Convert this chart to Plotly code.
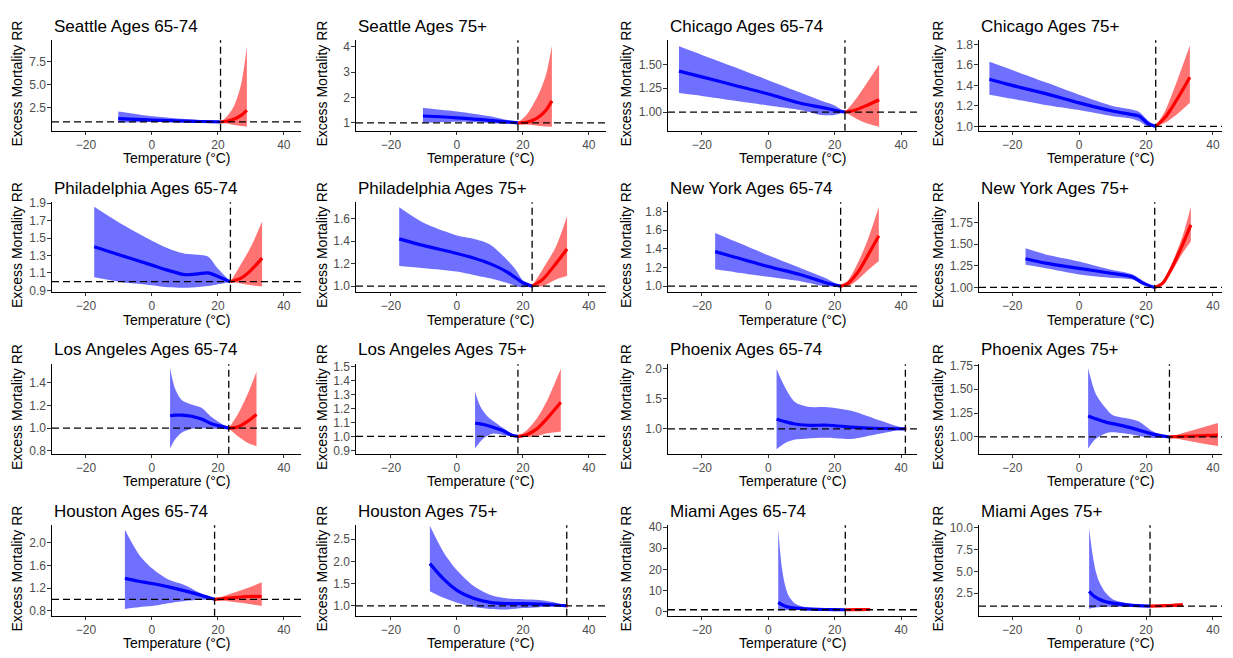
import plotly.graph_objects as go

W, H = 1233, 658

TITLES = ["Seattle Ages 65-74", "Seattle Ages 75+", "Chicago Ages 65-74", "Chicago Ages 75+",
          "Philadelphia Ages 65-74", "Philadelphia Ages 75+", "New York Ages 65-74", "New York Ages 75+",
          "Los Angeles Ages 65-74", "Los Angeles Ages 75+", "Phoenix Ages 65-74", "Phoenix Ages 75+",
          "Houston Ages 65-74", "Houston Ages 75+", "Miami Ages 65-74", "Miami Ages 75+"]
MMT = [20.8, 18.5, 23.1, 22.9, 23.8, 22.8, 21.8, 22.6, 23.3, 18.5, 41.3, 27.0, 19.0, 33.3, 23.2, 21.2]
X_TICKS = [-20, 0, 20, 40]
Y_TICKS = [[2.5, 5.0, 7.5], [1, 2, 3, 4], [1.00, 1.25, 1.50], [1.0, 1.2, 1.4, 1.6, 1.8],
           [0.9, 1.1, 1.3, 1.5, 1.7, 1.9], [1.0, 1.2, 1.4, 1.6], [1.0, 1.2, 1.4, 1.6, 1.8], [1.00, 1.25, 1.50, 1.75],
           [0.8, 1.0, 1.2, 1.4], [0.9, 1.0, 1.1, 1.2, 1.3, 1.4, 1.5], [1.0, 1.5, 2.0], [1.00, 1.25, 1.50, 1.75],
           [0.8, 1.2, 1.6, 2.0], [1.0, 1.5, 2.0, 2.5], [0, 10, 20, 30, 40], [2.5, 5.0, 7.5, 10.0]]
Y_LABELS = [["2.5", "5.0", "7.5"], ["1", "2", "3", "4"], ["1.00", "1.25", "1.50"], ["1.0", "1.2", "1.4", "1.6", "1.8"],
            ["0.9", "1.1", "1.3", "1.5", "1.7", "1.9"], ["1.0", "1.2", "1.4", "1.6"], ["1.0", "1.2", "1.4", "1.6", "1.8"],
            ["1.00", "1.25", "1.50", "1.75"], ["0.8", "1.0", "1.2", "1.4"],
            ["0.9", "1.0", "1.1", "1.2", "1.3", "1.4", "1.5"], ["1.0", "1.5", "2.0"], ["1.00", "1.25", "1.50", "1.75"],
            ["0.8", "1.2", "1.6", "2.0"], ["1.0", "1.5", "2.0", "2.5"], ["0", "10", "20", "30", "40"],
            ["2.5", "5.0", "7.5", "10.0"]]

# ---- Seattle 65-74
sea65_ct = [-10.2, -5, 0, 5, 10, 15, 20.8]
sea65_crr = [1.35, 1.27, 1.2, 1.14, 1.08, 1.04, 1.0]
sea65_clo = [0.93, 0.97, 1.0, 1.0, 0.98, 0.96, 1.0]
sea65_chi = [2.12, 1.85, 1.6, 1.45, 1.3, 1.17, 1.0]
sea65_ht = [20.8, 23, 25, 27, 28.8]
sea65_hrr = [1.0, 1.1, 1.3, 1.7, 2.25]
sea65_hlo = [1.0, 0.8, 0.65, 0.55, 0.5]
sea65_hhi = [1.0, 1.7, 2.8, 5.0, 9.1]
# ---- Seattle 75+
sea75_ct = [-10.3, -5, 0, 5, 10, 15, 18.5]
sea75_crr = [1.27, 1.24, 1.2, 1.15, 1.1, 1.04, 1.0]
sea75_clo = [1.0, 1.02, 1.04, 1.02, 0.99, 0.96, 1.0]
sea75_chi = [1.6, 1.52, 1.45, 1.36, 1.26, 1.12, 1.0]
sea75_ht = [18.5, 21, 23, 25, 27, 28.8]
sea75_hrr = [1.0, 1.02, 1.1, 1.25, 1.5, 1.87]
sea75_hlo = [1.0, 0.93, 0.9, 0.88, 0.86, 0.85]
sea75_hhi = [1.0, 1.3, 1.7, 2.2, 2.9, 4.05]
# ---- Chicago 65-74
chi65_ct = [-26.9, -20, -10, 0, 10, 16, 20, 23.1]
chi65_crr = [1.43, 1.37, 1.28, 1.19, 1.09, 1.05, 1.02, 1.0]
chi65_clo = [1.2, 1.17, 1.12, 1.07, 1.02, 0.97, 0.97, 1.0]
chi65_chi = [1.69, 1.6, 1.47, 1.335, 1.2, 1.12, 1.07, 1.0]
chi65_ht = [23.1, 26, 29, 33.4]
chi65_hrr = [1.0, 1.02, 1.06, 1.13]
chi65_hlo = [1.0, 0.94, 0.89, 0.845]
chi65_hhi = [1.0, 1.12, 1.27, 1.5]
# ---- Chicago 75+
chi75_ct = [-26.8, -20, -10, 0, 10, 15, 18, 20.5, 22.9]
chi75_crr = [1.46, 1.40, 1.32, 1.23, 1.15, 1.12, 1.1, 1.03, 1.0]
chi75_clo = [1.31, 1.27, 1.21, 1.16, 1.1, 1.08, 1.05, 1.0, 1.0]
chi75_chi = [1.63, 1.55, 1.43, 1.31, 1.2, 1.17, 1.14, 1.06, 1.0]
chi75_ht = [22.9, 26, 29, 33.1]
chi75_hrr = [1.0, 1.1, 1.25, 1.48]
chi75_hlo = [1.0, 1.04, 1.11, 1.23]
chi75_hhi = [1.0, 1.17, 1.42, 1.79]
# ---- Philadelphia 65-74
phl65_ct = [-17.5, -10, 0, 5, 10, 14, 17, 20, 23.8]
phl65_crr = [1.40, 1.31, 1.19, 1.13, 1.08, 1.09, 1.10, 1.06, 1.0]
phl65_clo = [1.05, 1.0, 0.96, 0.935, 0.93, 0.94, 0.95, 0.97, 1.0]
phl65_chi = [1.86, 1.68, 1.47, 1.38, 1.32, 1.31, 1.29, 1.15, 1.0]
phl65_ht = [23.8, 27, 30, 33.4]
phl65_hrr = [1.0, 1.04, 1.13, 1.27]
phl65_hlo = [1.0, 0.98, 0.96, 0.945]
phl65_hhi = [1.0, 1.2, 1.4, 1.69]
# ---- Philadelphia 75+
phl75_ct = [-17.5, -10, 0, 5, 10, 15, 18, 20, 22.8]
phl75_crr = [1.42, 1.36, 1.29, 1.25, 1.2, 1.13, 1.07, 1.03, 1.0]
phl75_clo = [1.18, 1.16, 1.13, 1.1, 1.07, 1.03, 1.0, 0.99, 1.0]
phl75_chi = [1.70, 1.56, 1.45, 1.42, 1.37, 1.24, 1.14, 1.05, 1.0]
phl75_ht = [22.8, 26, 30, 33.4]
phl75_hrr = [1.0, 1.06, 1.2, 1.33]
phl75_hlo = [1.0, 1.0, 1.06, 1.09]
phl75_hhi = [1.0, 1.15, 1.35, 1.62]
# ---- New York 65-74
nyc65_ct = [-16, -10, 0, 10, 17, 21.8]
nyc65_crr = [1.37, 1.31, 1.21, 1.12, 1.04, 1.0]
nyc65_clo = [1.18, 1.15, 1.10, 1.05, 1.0, 1.0]
nyc65_chi = [1.57, 1.48, 1.33, 1.19, 1.09, 1.0]
nyc65_ht = [21.8, 24, 27, 30, 33.3]
nyc65_hrr = [1.0, 1.03, 1.15, 1.33, 1.54]
nyc65_hlo = [1.0, 1.0, 1.07, 1.17, 1.27]
nyc65_hhi = [1.0, 1.06, 1.25, 1.5, 1.85]
# ---- New York 75+
nyc75_ct = [-16, -10, 0, 10, 16, 19, 22.6]
nyc75_crr = [1.33, 1.28, 1.22, 1.16, 1.12, 1.05, 1.0]
nyc75_clo = [1.26, 1.22, 1.15, 1.11, 1.09, 1.03, 1.0]
nyc75_chi = [1.45, 1.38, 1.30, 1.20, 1.15, 1.08, 1.0]
nyc75_ht = [22.6, 25, 28, 31, 33.4]
nyc75_hrr = [1.0, 1.05, 1.25, 1.5, 1.72]
nyc75_hlo = [1.0, 1.04, 1.2, 1.4, 1.53]
nyc75_hhi = [1.0, 1.07, 1.3, 1.6, 1.93]
# ---- Los Angeles 65-74
la65_ct = [5.5, 7, 9, 12, 15, 18, 20.5, 23.3]
la65_crr = [1.11, 1.115, 1.115, 1.105, 1.08, 1.04, 1.02, 1.0]
la65_clo = [0.82, 0.9, 0.96, 0.995, 1.0, 0.995, 0.995, 1.0]
la65_chi = [1.53, 1.35, 1.25, 1.21, 1.18, 1.1, 1.05, 1.0]
la65_ht = [23.3, 26, 29, 31.7]
la65_hrr = [1.0, 1.01, 1.06, 1.12]
la65_hlo = [1.0, 0.93, 0.87, 0.84]
la65_hhi = [1.0, 1.12, 1.3, 1.5]
# ---- Los Angeles 75+
la75_ct = [5.5, 7, 9, 11, 14, 16.5, 18.5]
la75_crr = [1.094, 1.09, 1.08, 1.065, 1.04, 1.01, 1.0]
la75_clo = [0.913, 0.96, 1.0, 1.02, 1.01, 1.0, 1.0]
la75_chi = [1.32, 1.22, 1.15, 1.11, 1.06, 1.02, 1.0]
la75_ht = [18.5, 21, 24, 27, 31.5]
la75_hrr = [1.0, 1.01, 1.05, 1.12, 1.245]
la75_hlo = [1.0, 0.995, 1.0, 1.02, 1.035]
la75_hhi = [1.0, 1.04, 1.12, 1.24, 1.485]
# ---- Phoenix 65-74
phx65_ct = [2.5, 5, 8, 12, 18, 25, 32, 41.3]
phx65_crr = [1.16, 1.12, 1.08, 1.06, 1.06, 1.03, 1.01, 1.0]
phx65_clo = [0.66, 0.76, 0.82, 0.84, 0.85, 0.83, 0.9, 1.0]
phx65_chi = [2.0, 1.7, 1.45, 1.37, 1.36, 1.3, 1.17, 1.0]
phx65_ht = [41.3, 41.6]
phx65_hrr = [1.0, 1.0]
phx65_hlo = [1.0, 1.0]
phx65_hhi = [1.0, 1.0]
# ---- Phoenix 75+
phx75_ct = [2.7, 5, 8, 10, 15, 18, 22, 27]
phx75_crr = [1.22, 1.19, 1.155, 1.14, 1.1, 1.07, 1.03, 1.0]
phx75_clo = [0.88, 0.98, 1.04, 1.05, 1.03, 1.01, 0.99, 1.0]
phx75_chi = [1.72, 1.45, 1.3, 1.23, 1.19, 1.16, 1.06, 1.0]
phx75_ht = [27, 34, 41.5]
phx75_hrr = [1.0, 1.01, 1.02]
phx75_hlo = [1.0, 0.95, 0.905]
phx75_hhi = [1.0, 1.07, 1.145]
# ---- Houston 65-74
hou65_ct = [-8.2, -4, 0, 5, 10, 15, 19]
hou65_crr = [1.37, 1.32, 1.28, 1.22, 1.15, 1.07, 1.0]
hou65_clo = [0.83, 0.86, 0.88, 0.93, 0.97, 0.99, 1.0]
hou65_chi = [2.23, 1.8, 1.55, 1.35, 1.25, 1.1, 1.0]
hou65_ht = [19, 25, 29, 33.3]
hou65_hrr = [1.0, 1.03, 1.05, 1.05]
hou65_hlo = [1.0, 0.95, 0.92, 0.88]
hou65_hhi = [1.0, 1.12, 1.2, 1.3]
# ---- Houston 75+
hou75_ct = [-8.2, -4, 0, 5, 10, 15, 20, 25, 30, 33.3]
hou75_crr = [1.95, 1.6, 1.35, 1.17, 1.08, 1.05, 1.05, 1.04, 1.02, 1.0]
hou75_clo = [1.33, 1.18, 1.07, 0.98, 0.93, 0.92, 0.95, 0.97, 0.99, 1.0]
hou75_chi = [2.8, 2.2, 1.8, 1.45, 1.25, 1.17, 1.15, 1.13, 1.07, 1.0]
hou75_ht = [33.3, 33.6]
hou75_hrr = [1.0, 1.0]
hou75_hlo = [1.0, 1.0]
hou75_hhi = [1.0, 1.0]
# ---- Miami 65-74
mia65_ct = [3, 4, 5, 6, 8, 10, 15, 20, 23.2]
mia65_crr = [4.5, 3.5, 2.8, 2.3, 1.8, 1.5, 1.2, 1.05, 1.0]
mia65_clo = [0.6, 0.7, 0.8, 0.85, 0.88, 0.9, 0.95, 0.98, 1.0]
mia65_chi = [39, 22, 13, 8, 4, 2.6, 1.5, 1.1, 1.0]
mia65_ht = [23.2, 27, 30.7]
mia65_hrr = [1.0, 1.05, 1.1]
mia65_hlo = [1.0, 0.85, 0.75]
mia65_hhi = [1.0, 1.3, 1.6]
# ---- Miami 75+
mia75_ct = [3, 4, 5, 6, 8, 10, 15, 21.2]
mia75_crr = [2.7, 2.3, 2.0, 1.8, 1.5, 1.35, 1.12, 1.0]
mia75_clo = [0.7, 0.78, 0.85, 0.88, 0.92, 0.94, 0.97, 1.0]
mia75_chi = [10, 7, 5, 3.8, 2.5, 1.8, 1.3, 1.0]
mia75_ht = [21.2, 26, 31]
mia75_hrr = [1.0, 1.05, 1.15]
mia75_hlo = [1.0, 0.93, 0.9]
mia75_hhi = [1.0, 1.15, 1.35]

PANELS = [
    (sea65_ct, sea65_crr, sea65_clo, sea65_chi, sea65_ht, sea65_hrr, sea65_hlo, sea65_hhi),
    (sea75_ct, sea75_crr, sea75_clo, sea75_chi, sea75_ht, sea75_hrr, sea75_hlo, sea75_hhi),
    (chi65_ct, chi65_crr, chi65_clo, chi65_chi, chi65_ht, chi65_hrr, chi65_hlo, chi65_hhi),
    (chi75_ct, chi75_crr, chi75_clo, chi75_chi, chi75_ht, chi75_hrr, chi75_hlo, chi75_hhi),
    (phl65_ct, phl65_crr, phl65_clo, phl65_chi, phl65_ht, phl65_hrr, phl65_hlo, phl65_hhi),
    (phl75_ct, phl75_crr, phl75_clo, phl75_chi, phl75_ht, phl75_hrr, phl75_hlo, phl75_hhi),
    (nyc65_ct, nyc65_crr, nyc65_clo, nyc65_chi, nyc65_ht, nyc65_hrr, nyc65_hlo, nyc65_hhi),
    (nyc75_ct, nyc75_crr, nyc75_clo, nyc75_chi, nyc75_ht, nyc75_hrr, nyc75_hlo, nyc75_hhi),
    (la65_ct, la65_crr, la65_clo, la65_chi, la65_ht, la65_hrr, la65_hlo, la65_hhi),
    (la75_ct, la75_crr, la75_clo, la75_chi, la75_ht, la75_hrr, la75_hlo, la75_hhi),
    (phx65_ct, phx65_crr, phx65_clo, phx65_chi, phx65_ht, phx65_hrr, phx65_hlo, phx65_hhi),
    (phx75_ct, phx75_crr, phx75_clo, phx75_chi, phx75_ht, phx75_hrr, phx75_hlo, phx75_hhi),
    (hou65_ct, hou65_crr, hou65_clo, hou65_chi, hou65_ht, hou65_hrr, hou65_hlo, hou65_hhi),
    (hou75_ct, hou75_crr, hou75_clo, hou75_chi, hou75_ht, hou75_hrr, hou75_hlo, hou75_hhi),
    (mia65_ct, mia65_crr, mia65_clo, mia65_chi, mia65_ht, mia65_hrr, mia65_hlo, mia65_hhi),
    (mia75_ct, mia75_crr, mia75_clo, mia75_chi, mia75_ht, mia75_hrr, mia75_hlo, mia75_hhi),
]

# ---- layout (pixel geometry)
Y_RANGES = [[0.05, 9.8], [0.69, 4.26], [0.805, 1.753], [0.958, 1.84],
            [0.885, 1.91], [0.951, 1.744], [0.941, 1.897], [0.951, 1.98],
            [0.774, 1.565], [0.876, 1.516], [0.585, 2.077], [0.825, 1.76],
            [0.71, 2.31], [0.78, 2.81], [-1.8, 40.8], [-0.1, 10.3]]
X_RANGES = [[-30.3, 45.2], [-30.6, 45.2], [-30.2, 44.8], [-29.9, 42.7]]
COL_L = [52, 356, 668, 979]
COL_R = [301, 606, 917, 1222]
YT_X = [17, 322, 626, 938]
ROW_T = [35, 200, 365, 529]
ROW_B = [127, 291, 456, 621]
ROW_STEP = 164.6

FONT = "Liberation Sans, Arial, sans-serif"
BLUE_FILL = "rgba(0,0,255,0.56)"
RED_FILL = "rgba(255,0,0,0.55)"

fig = go.Figure()
shapes = []
annotations = []

for i, p in enumerate(PANELS):
    r, c = divmod(i, 4)
    n = i + 1
    xa = "x" if n == 1 else f"x{n}"
    ya = "y" if n == 1 else f"y{n}"
    ct, crr, clo, chi, ht, hrr, hlo, hhi = p
    line0 = dict(width=0, shape="spline", smoothing=0.8)
    # ribbons
    fig.add_trace(go.Scatter(x=ct, y=clo, mode="lines", line=line0, hoverinfo="skip",
                             showlegend=False, xaxis=xa, yaxis=ya))
    fig.add_trace(go.Scatter(x=ct, y=chi, mode="lines", line=line0, fill="tonexty",
                             fillcolor=BLUE_FILL, hoverinfo="skip", showlegend=False, xaxis=xa, yaxis=ya))
    fig.add_trace(go.Scatter(x=ht, y=hlo, mode="lines", line=line0, hoverinfo="skip",
                             showlegend=False, xaxis=xa, yaxis=ya))
    fig.add_trace(go.Scatter(x=ht, y=hhi, mode="lines", line=line0, fill="tonexty",
                             fillcolor=RED_FILL, hoverinfo="skip", showlegend=False, xaxis=xa, yaxis=ya))
    # lines
    fig.add_trace(go.Scatter(x=ct, y=crr, mode="lines",
                             line=dict(color="#0000FF", width=3.2, shape="spline", smoothing=0.8),
                             showlegend=False, xaxis=xa, yaxis=ya))
    fig.add_trace(go.Scatter(x=ht, y=hrr, mode="lines",
                             line=dict(color="#FF0000", width=3.2, shape="spline", smoothing=0.8),
                             showlegend=False, xaxis=xa, yaxis=ya))

    xdom = [COL_L[c] / W, COL_R[c] / W]
    ydom = [1 - ROW_B[r] / H, 1 - ROW_T[r] / H]
    axcommon = dict(showgrid=False, zeroline=False, showline=True, linecolor="black", linewidth=1.1,
                    ticks="outside", ticklen=3.5, tickwidth=1, tickcolor="#333333",
                    tickfont=dict(family=FONT, size=12, color="#4D4D4D"), fixedrange=True)
    fig.layout["xaxis" if n == 1 else f"xaxis{n}"] = dict(
        domain=xdom, anchor=ya, range=X_RANGES[c], tickvals=X_TICKS,
        ticktext=[str(v).replace("-", "\u2212") for v in X_TICKS], ticklabelstandoff=-1, **axcommon)
    fig.layout["yaxis" if n == 1 else f"yaxis{n}"] = dict(
        domain=ydom, anchor=xa, range=Y_RANGES[i], tickvals=Y_TICKS[i], ticktext=Y_LABELS[i],
        ticklabelstandoff=-1, **axcommon)

    # reference lines
    dash = dict(color="black", width=1.3, dash="7px,4px")
    shapes.append(dict(type="line", xref=f"{xa} domain", x0=0, x1=1, yref=ya, y0=1, y1=1, line=dash))
    shapes.append(dict(type="line", xref=xa, x0=MMT[i], x1=MMT[i], yref=f"{ya} domain", y0=0, y1=1, line=dash))

    # texts
    annotations.append(dict(text=TITLES[i], xref="paper", yref="paper", x=COL_L[c] / W, y=1 - (21 + ROW_STEP * r) / H,
                            xanchor="left", yanchor="middle", showarrow=False,
                            font=dict(family=FONT, size=17, color="black")))
    annotations.append(dict(text="Temperature (\u00b0C)", xref="paper", yref="paper",
                            x=(COL_L[c] + COL_R[c]) / 2 / W, y=1 - (155 + ROW_STEP * r) / H,
                            xanchor="center", yanchor="middle", showarrow=False,
                            font=dict(family=FONT, size=14, color="black")))
    annotations.append(dict(text="Excess Mortality RR", xref="paper", yref="paper",
                            x=YT_X[c] / W, y=1 - ((ROW_T[r] + ROW_B[r]) / 2 - 2) / H, textangle=-90,
                            xanchor="center", yanchor="middle", showarrow=False,
                            font=dict(family=FONT, size=14, color="black")))

fig.update_layout(width=W, height=H, margin=dict(l=0, r=0, t=0, b=0),
                  paper_bgcolor="white", plot_bgcolor="white",
                  shapes=shapes, annotations=annotations, showlegend=False)

fig.write_html("out.html", config={"displayModeBar": False})
